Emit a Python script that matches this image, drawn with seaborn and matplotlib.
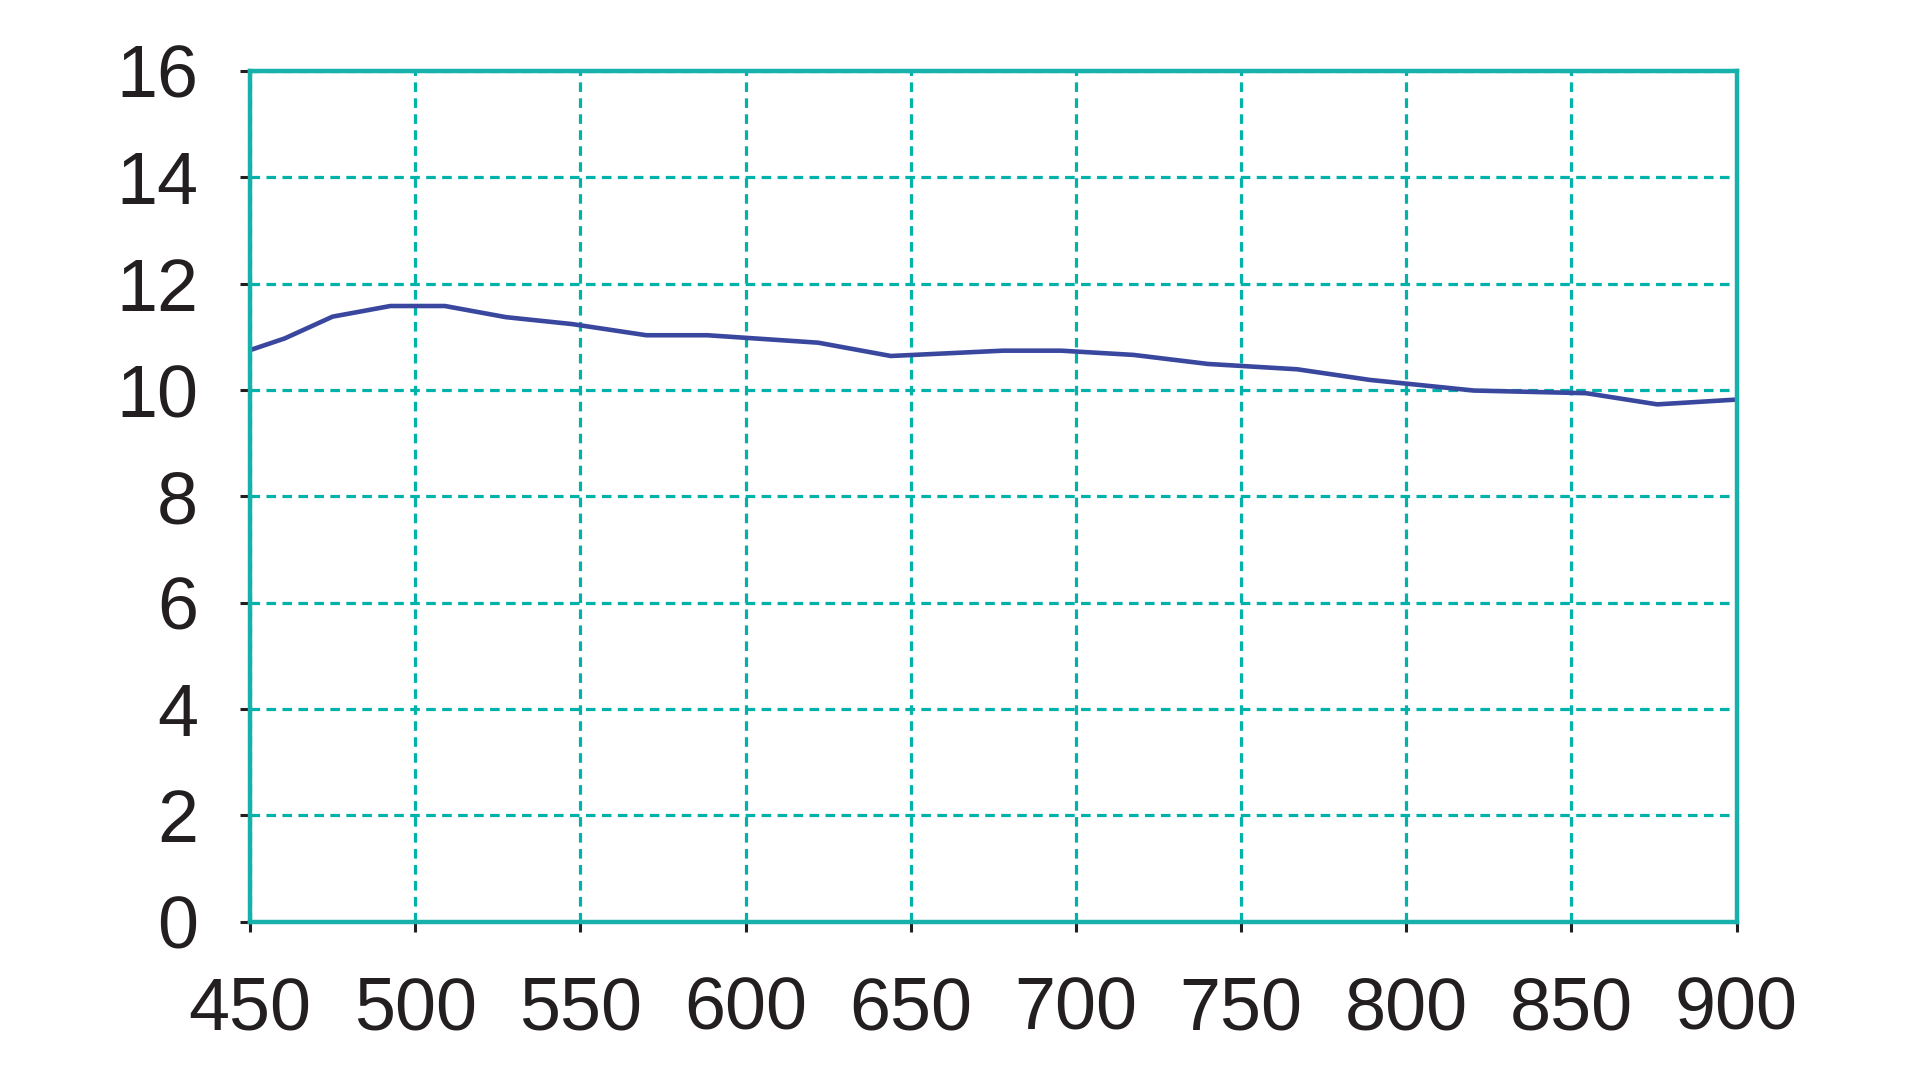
import matplotlib
matplotlib.use("Agg")
import matplotlib.pyplot as plt
import seaborn as sns
import pandas as pd

wavelength = [450, 460.5, 475, 492.5, 509, 527.5, 547.5, 570, 588.5, 622, 644, 678, 695.5, 717.5, 740, 767, 789, 820.5, 854.5, 876, 900]
values = [10.75, 10.97, 11.38, 11.58, 11.58, 11.37, 11.24, 11.03, 11.03, 10.89, 10.64, 10.74, 10.74, 10.66, 10.49, 10.39, 10.19, 9.99, 9.94, 9.73, 9.82]
x_ticks = [450, 500, 550, 600, 650, 700, 750, 800, 850, 900]
y_ticks = [0, 2, 4, 6, 8, 10, 12, 14, 16]

df = pd.DataFrame({"wavelength": wavelength, "value": values})

sns.set_theme(style="white")
plt.rcParams['font.family'] = ['Liberation Sans', 'DejaVu Sans']

teal = "#17B1AB"
fig = plt.figure(figsize=(19.2, 10.8), dpi=100)
ax = fig.add_axes([250/1920, 1 - 921.7/1080, (1736.5-250)/1920, (921.7-71)/1080])

sns.lineplot(data=df, x="wavelength", y="value", ax=ax, color="#3A479E", linewidth=3.3)

ax.set_xlim(450, 900)
ax.set_ylim(0, 16)
ax.set_xticks(x_ticks)
ax.set_yticks(y_ticks)
ax.set_xticklabels([str(t) for t in x_ticks])
ax.set_yticklabels([str(t) for t in y_ticks])
ax.set_xlabel("")
ax.set_ylabel("")

ax.grid(True, color="#00B2A9", linestyle=(0, (3.0, 2.0)), linewidth=2.3)
ax.set_axisbelow(True)
for s in ax.spines.values():
    s.set_color(teal)
    s.set_linewidth(3.2)
    s.set_visible(True)

ax.tick_params(axis="both", which="major", direction="out", length=7.5, width=2.2,
               color="#231F20", labelcolor="#231F20", labelsize=53,
               left=True, bottom=True)
ax.tick_params(axis="y", pad=30)
ax.tick_params(axis="x", pad=31)

fig.savefig("out.png", dpi=100, facecolor="white")
